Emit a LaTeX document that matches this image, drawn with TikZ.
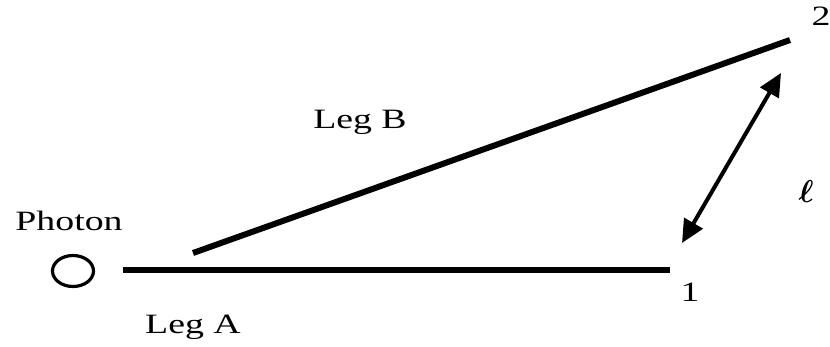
\documentclass[tikz,border=0pt]{standalone}
\usepackage{fontspec}
\setmainfont[FakeStretch=1.35]{Liberation Serif}
\usetikzlibrary{arrows.meta,shapes.geometric}

\begin{document}
\begin{tikzpicture}[x=1pt,y=-1pt,
    leg/.style={line width=6pt},
    lbl/.style={anchor=base,inner sep=0pt,font=\fontsize{28}{30}\selectfont}]
      \useasboundingbox (0,0) rectangle (830,346);
      \node[draw,ellipse,line width=3.2pt,minimum width=41pt,minimum height=31pt,inner sep=0pt] (photon) at (73,271) {};
      \coordinate (a0) at (123,270);
      \coordinate (a1) at (670,270);
      \coordinate (b0) at (193,253);
      \coordinate (b1) at (790,40);
      \coordinate (l0) at (682,243);
      \coordinate (l1) at (781,73);
      \draw[leg] (a0) -- (a1);
      \draw[leg] (b0) -- (b1);
      \draw[line width=4pt,{Triangle[length=23pt,width=21pt]}-{Triangle[length=23pt,width=21pt]}] (l0) -- (l1);
      \node[lbl] (phlbl) at (69,230) {Photon};
      \node[lbl] (lega) at (193,333) {Leg A};
      \node[lbl] (legb) at (360,128) {Leg B};
      \node[lbl] (p1) at (690,301) {1};
      \node[lbl] (p2) at (821,25) {2};
      \node[lbl] (len) at (806,202) {\resizebox{!}{22pt}{\boldmath$\ell$}};
    \end{tikzpicture}
\end{document}
